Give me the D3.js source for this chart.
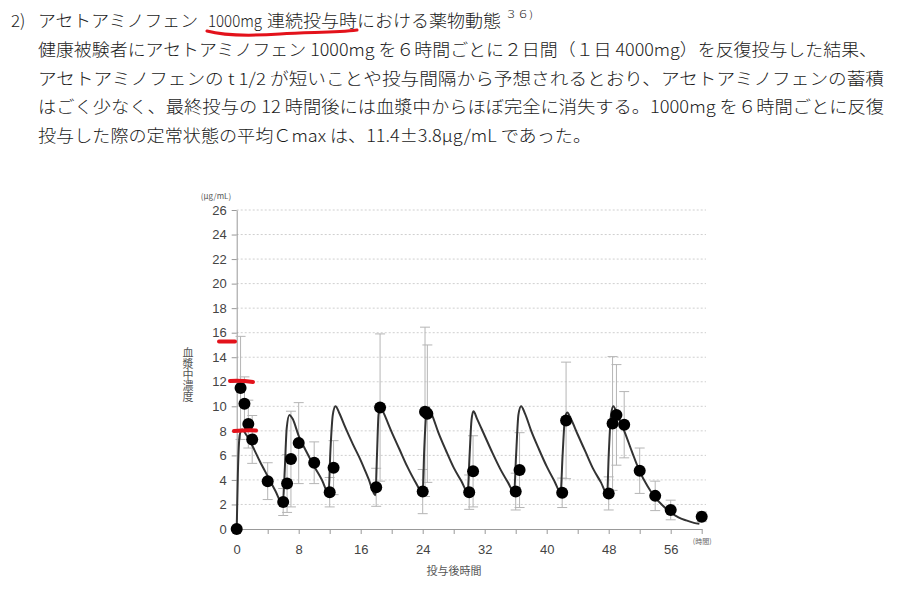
<!DOCTYPE html>
<html><head><meta charset="utf-8">
<script src="https://cdn.jsdelivr.net/npm/d3@7"></script>
<style>body{margin:0;background:#fff} svg{display:block}</style>
</head><body>
<svg id="c" width="909" height="591"></svg>
<script>
// ---- data ----
const sampleTimes = [0,0.5,1,1.5,2,4,6,6.5,7,8,10,12,12.5,18,18.5,24,24.3,24.6,30,30.5,36,36.5,42,42.5,48,48.5,49,50,52,54,56,60];
const meanConc   = [0,11.5,10.2,8.55,7.3,3.9,2.2,3.7,5.7,7.0,5.4,3.0,5.0,3.4,9.9,3.05,9.55,9.4,3.0,4.7,3.05,4.8,2.95,8.85,2.9,8.6,9.3,8.5,4.75,2.7,1.55,1.0];
const sdConc     = [0,4.2,2.2,1.95,1.95,1.5,1.1,2.35,3.9,3.3,1.7,1.2,2.2,1.55,6.0,1.8,6.9,5.6,1.4,2.9,1.5,3.05,1.2,4.75,1.35,5.45,4.1,2.7,1.85,1.2,0.8,0.4];

const curveTimes = [0,0.15,0.4,0.7,1.2,2,3,4,5,5.95,
  6.2,6.45,6.8,7.2,8,9,10,11,11.85,
  12.1,12.4,12.75,13.2,14,15,16,17,17.9,
  18.1,18.3,18.55,19,20,21,22,23,24.0,
  24.2,24.45,24.75,25.2,26,27,28,29,29.8,
  30.05,30.3,30.55,31,32,33,34,35,35.8,
  36.05,36.35,36.7,37.2,38,39,40,41,41.8,
  42.05,42.35,42.65,43.1,44,45,46,47,47.8,
  48.0,48.3,48.6,49.1,50,51,52,53,54,55,56,57,58,59,59.7];
const curveConc = [0,4.5,7.7,8.1,7.7,6.8,5.5,4.3,3.1,2.0,
  4.8,8.2,9.3,9.0,7.6,6.3,5.1,4.0,2.9,
  6.5,9.3,10.0,9.5,8.3,6.9,5.6,4.1,2.75,
  6.0,9.3,10.0,9.4,7.9,6.5,5.1,3.9,3.0,
  6.5,9.3,9.9,9.3,7.9,6.4,5.0,3.9,3.0,
  6.0,8.9,9.6,9.0,7.6,6.2,4.9,3.8,3.0,
  6.0,9.3,10.0,9.4,8.0,6.5,5.1,3.9,3.0,
  6.0,9.0,9.5,9.0,7.7,6.3,4.9,3.8,2.85,
  6.0,9.3,10.0,9.3,8.0,6.3,4.7,3.5,2.55,1.9,1.35,0.95,0.7,0.5,0.42];

const yTickValues = [0,2,4,6,8,10,12,14,16,18,20,22,24,26];
const xTickValues = [0,4,8,12,16,20,24,28,32,36,40,44,48,52,56,60];
const xLabelValues = [0,8,16,24,32,40,48,56];

const headerSegments = ["アセトアミノフェン", "1000mg", "連続投与時", "における薬物動態"];
const headerSegX = [38, 208, 267, 357];
const headerSegW = [160, 54, 90, 144];
const textLines = [
  "健康被験者にアセトアミノフェン 1000mg を６時間ごとに２日間（１日 4000mg）を反復投与した結果、",
  "アセトアミノフェンの t 1/2 が短いことや投与間隔から予想されるとおり、アセトアミノフェンの蓄積",
  "はごく少なく、最終投与の 12 時間後には血漿中からほぼ完全に消失する。1000mg を６時間ごとに反復",
  "投与した際の定常状態の平均Ｃmax は、11.4±3.8μg/mL であった。"
];
const textLineEnds = [877, 884, 884, 591];

// ---- drawing ----
const svg = d3.select("#c");
const JP = "'Noto Sans CJK JP', 'Noto Sans', sans-serif";
const NUM = "'Liberation Sans', Arial, 'Noto Sans CJK JP', sans-serif";

// header text
svg.append("text").attr("x", 11).attr("y", 27).attr("font-family", JP)
  .attr("font-size", 17).attr("fill", "#1a1a1a").attr("font-weight", 300).text("2)");
headerSegments.forEach((t, i) => {
  svg.append("text").attr("x", headerSegX[i]).attr("y", 27).attr("font-family", JP)
    .attr("font-size", 17).attr("fill", "#1a1a1a").attr("font-weight", 300)
    .attr("textLength", headerSegW[i]).attr("lengthAdjust", "spacingAndGlyphs")
    .text(t);
});
svg.append("text").attr("x", 505).attr("y", 18).attr("font-family", JP)
  .attr("font-size", 10).attr("fill", "#1a1a1a").attr("font-weight", 300)
  .attr("textLength", 28).attr("lengthAdjust", "spacingAndGlyphs").text("３６)");
textLines.forEach((t, i) => {
  svg.append("text").attr("x", 38).attr("y", 56 + i * 28.5).attr("font-family", JP)
    .attr("font-size", 17).attr("fill", "#1a1a1a").attr("font-weight", 300)
    .attr("textLength", textLineEnds[i] - 38).attr("lengthAdjust", "spacingAndGlyphs")
    .text(t);
});

// red underline on header
svg.append("path")
  .attr("d", "M207,31 C225,36 250,36 280,34 C310,32 335,33 357,30")
  .attr("fill", "none").attr("stroke", "#e3121b").attr("stroke-width", 3)
  .attr("stroke-linecap", "round");

// chart
const x = d3.scaleLinear().domain([0, 60]).range([236.7, 701.7]);
const y = d3.scaleLinear().domain([0, 26]).range([529, 210]);

// grid
svg.append("g").selectAll("line").data(yTickValues.filter(v => v > 0)).join("line")
  .attr("x1", x(0)).attr("x2", 706).attr("y1", d => y(d)).attr("y2", d => y(d))
  .attr("stroke", "#cfcfcf").attr("stroke-width", 1).attr("stroke-dasharray", "2,2");

// axes
const yAxis = svg.append("g").attr("transform", `translate(${x(0)},0)`)
  .call(d3.axisLeft(y).tickValues(yTickValues).tickSize(5).tickSizeOuter(0).tickPadding(5).tickFormat(d3.format("d")));
const xAxis = svg.append("g").attr("transform", `translate(0,${y(0)})`)
  .call(d3.axisBottom(x).tickValues(xTickValues).tickSize(5).tickSizeOuter(0).tickPadding(11)
    .tickFormat(d => xLabelValues.includes(d) ? d : (d === 60 ? "(時間)" : "")));
[yAxis, xAxis].forEach(g => {
  g.select(".domain").attr("stroke", "#999");
  g.selectAll(".tick line").attr("stroke", "#999");
  g.selectAll(".tick text").attr("fill", "#444").attr("font-family", NUM).attr("font-size", 13);
});
xAxis.selectAll(".tick text").filter(d => d === 60)
  .attr("font-size", 7).attr("font-family", JP).attr("dy", "-0.1em").attr("fill", "#666");

// axis titles
svg.append("text").attr("x", 216).attr("y", 199).attr("text-anchor", "middle")
  .attr("font-family", JP).attr("font-size", 8).attr("fill", "#555").text("(μg/mL)");
svg.append("text").attr("x", 188).attr("y", 347)
  .attr("font-family", JP).attr("font-size", 11).attr("fill", "#555")
  .style("writing-mode", "vertical-rl").style("text-orientation", "upright")
  .text("血漿中濃度");
svg.append("text").attr("x", 454).attr("y", 575).attr("text-anchor", "middle")
  .attr("font-family", JP).attr("font-size", 11).attr("fill", "#555").text("投与後時間");

// error bars
const samples = sampleTimes.map((t, i) => ({t, m: meanConc[i], s: sdConc[i]}));
const eb = svg.append("g").attr("stroke", "#b5b5b5").attr("stroke-width", 1);
samples.filter(d => d.s > 0).forEach(d => {
  const cx = x(d.t);
  eb.append("line").attr("x1", cx).attr("x2", cx).attr("y1", y(d.m + d.s)).attr("y2", y(Math.max(0, d.m - d.s)));
  eb.append("line").attr("x1", cx - 5).attr("x2", cx + 5).attr("y1", y(d.m + d.s)).attr("y2", y(d.m + d.s));
  eb.append("line").attr("x1", cx - 5).attr("x2", cx + 5).attr("y1", y(Math.max(0, d.m - d.s))).attr("y2", y(Math.max(0, d.m - d.s)));
});

// curve
const curvePts = curveTimes.map((t, i) => [t, curveConc[i]]);
svg.append("path").datum(curvePts)
  .attr("d", d3.line().x(d => x(d[0])).y(d => y(d[1])).curve(d3.curveMonotoneX))
  .attr("fill", "none").attr("stroke", "#333").attr("stroke-width", 2);

// points
svg.append("g").selectAll("circle").data(samples).join("circle")
  .attr("cx", d => x(d.t)).attr("cy", d => y(d.m)).attr("r", 6).attr("fill", "#000");

// red hand marks
const red = svg.append("g").attr("fill", "none").attr("stroke", "#e3121b")
  .attr("stroke-width", 4).attr("stroke-linecap", "round");
red.append("path").attr("d", "M219,341.5 L235,341.5");
red.append("path").attr("d", "M230,381 C238,380.5 246,381 253,382");
red.append("path").attr("d", "M234,431 C241,430.5 249,430 256,430.5");
</script>
</body></html>
